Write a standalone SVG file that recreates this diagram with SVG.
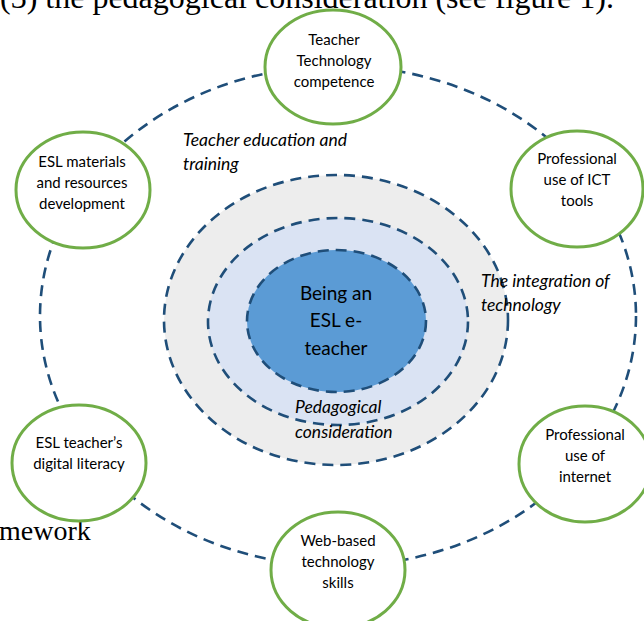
<svg xmlns="http://www.w3.org/2000/svg" width="644" height="621" viewBox="0 0 644 621">
<style>
.dash{fill:none;stroke:#1F4E79;stroke-width:2.6;stroke-dasharray:11 7}
.node{fill:#fff;stroke:#70AD47;stroke-width:3}
.nt{font-family:Lato,"Open Sans",sans-serif;font-size:15px;fill:#000;text-anchor:middle}
.it{font-family:Lato,"Open Sans",sans-serif;font-size:17.5px;font-style:italic;fill:#000}
.ct{font-family:Lato,"Open Sans",sans-serif;font-size:19px;fill:#000;text-anchor:middle}
.doc{font-family:"Liberation Serif",serif;fill:#000}
</style>
<rect width="644" height="621" fill="#fff"/>
<text class="doc" x="0" y="8" font-size="31" textLength="614" lengthAdjust="spacingAndGlyphs">(3) the pedagogical consideration (see figure 1).</text>
<text class="doc" x="-1" y="540" font-size="28">mework</text>
<g id="connectors">
<ellipse class="dash" cx="338" cy="316" rx="298" ry="250"/>
</g>
<g id="layers">
<ellipse cx="336" cy="320" rx="172" ry="145" class="dash" style="fill:#EDEDED"/>
<ellipse cx="338" cy="321.5" rx="130" ry="103.5" class="dash" style="fill:#DAE3F3"/>
<ellipse cx="336.5" cy="321" rx="89.5" ry="71" class="dash" style="fill:#5B9BD5"/>
</g>
<g id="center">
<text class="ct" x="336" y="300">Being an</text>
<text class="ct" x="336" y="327">ESL e-</text>
<text class="ct" x="336" y="355">teacher</text>
</g>
<g id="label-teacher-education">
<text class="it" x="183" y="146">Teacher education and</text>
<text class="it" x="183" y="170">training</text>
</g>
<g id="label-integration">
<text class="it" x="481" y="287">The integration of</text>
<text class="it" x="481" y="311">technology</text>
</g>
<g id="label-pedagogical">
<text class="it" x="295" y="413">Pedagogical</text>
<text class="it" x="295" y="438">consideration</text>
</g>
<g id="node-competence">
<ellipse class="node" cx="333" cy="67" rx="68" ry="57"/>
<text class="nt" x="334" y="45">Teacher</text>
<text class="nt" x="334" y="66">Technology</text>
<text class="nt" x="334" y="87">competence</text>
</g>
<g id="node-ict">
<ellipse class="node" cx="577" cy="189" rx="66" ry="58"/>
<text class="nt" x="577" y="164">Professional</text>
<text class="nt" x="577" y="185">use of ICT</text>
<text class="nt" x="577" y="206">tools</text>
</g>
<g id="node-internet">
<ellipse class="node" cx="585" cy="464" rx="66" ry="58"/>
<text class="nt" x="585" y="440">Professional</text>
<text class="nt" x="585" y="461">use of</text>
<text class="nt" x="585" y="482">internet</text>
</g>
<g id="node-web">
<ellipse class="node" cx="338" cy="570" rx="67" ry="58"/>
<text class="nt" x="338" y="546">Web-based</text>
<text class="nt" x="338" y="567">technology</text>
<text class="nt" x="338" y="588">skills</text>
</g>
<g id="node-literacy">
<ellipse class="node" cx="79" cy="463" rx="67" ry="58"/>
<text class="nt" x="79" y="448">ESL teacher’s</text>
<text class="nt" x="79" y="469">digital literacy</text>
</g>
<g id="node-materials">
<ellipse class="node" cx="83" cy="190" rx="67" ry="58"/>
<text class="nt" x="82" y="167">ESL materials</text>
<text class="nt" x="82" y="188">and resources</text>
<text class="nt" x="82" y="209">development</text>
</g>
</svg>
